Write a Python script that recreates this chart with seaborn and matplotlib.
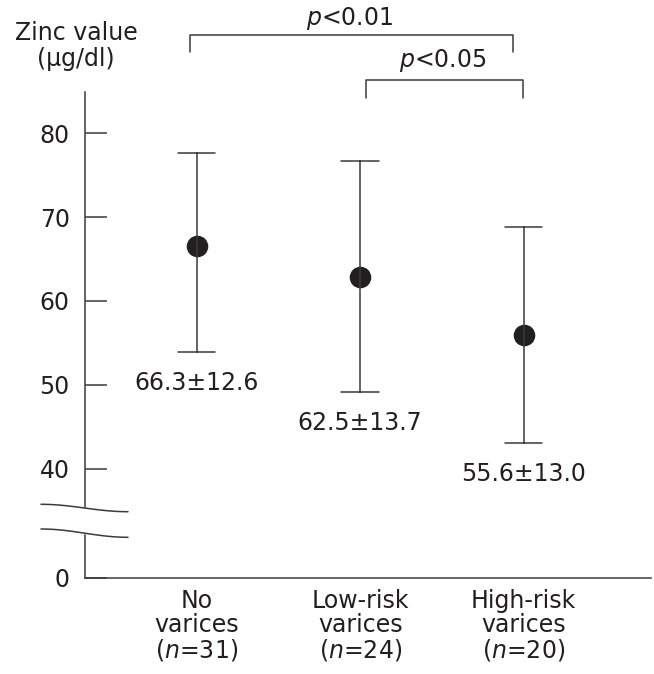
import numpy as np
import pandas as pd
import seaborn as sns
import matplotlib.pyplot as plt

# values
groups = ['No\nvarices\n($\\mathit{n}$=31)',
          'Low-risk\nvarices\n($\\mathit{n}$=24)',
          'High-risk\nvarices\n($\\mathit{n}$=20)']
mean_drawn = [66.6, 62.9, 55.9]
upper_drawn = [77.6, 76.7, 68.8]
lower_drawn = [53.9, 49.1, 43.1]
mean_label = [66.3, 62.5, 55.6]
sd_label = [12.6, 13.7, 13.0]
y_ticks = [0, 40, 50, 60, 70, 80]
comparisons = [(0, 2, 'p<0.01'), (1, 2, 'p<0.05')]

ink = '#231f20'
axc = '#3b3b3b'

sns.set_style('ticks')
plt.rcParams['font.family'] = ['DejaVu Sans']
plt.rcParams['mathtext.fontset'] = 'custom'
plt.rcParams['mathtext.rm'] = 'DejaVu Sans'
plt.rcParams['mathtext.it'] = 'DejaVu Sans:italic'
fs = 17

# long table: lower / mean / upper per group, median gives the point
rows = []
for g, lo, m, hi in zip(groups, lower_drawn, mean_drawn, upper_drawn):
    for v in (lo, m, hi):
        rows.append({'group': g, 'zinc': v})
df = pd.DataFrame(rows)

fig = plt.figure(figsize=(6.54, 6.74), dpi=100)
ax = fig.add_axes([85/654, (674-577.7)/674, 566/654, 486/674])

sns.pointplot(data=df, x='group', y='zinc', order=groups,
              estimator='median', errorbar=lambda v: (v.min(), v.max()),
              capsize=0.23, color=ink, linestyle='none', markersize=13.5,
              err_kws={'linewidth': 1.1, 'color': axc}, ax=ax)

# broken axis: 0..40 squeezed
ratio = 0.3256
def fwd(v):
    v = np.asarray(v, float)
    return np.where(v >= 40, v, 40 - (40 - v) * ratio)
def inv(t):
    t = np.asarray(t, float)
    return np.where(t >= 40, t, 40 - (40 - t) / ratio)
ax.set_yscale('function', functions=(fwd, inv))
ax.set_ylim(0, 84.95)
ax.set_xlim(-0.683, 2.779)
ax.set_yticks(y_ticks)
ax.set_yticklabels([str(t) for t in y_ticks])
ax.set_xticks(range(len(groups)))
ax.set_xticklabels(groups)
ax.set_xlabel('')
ax.set_ylabel('')

sns.despine(ax=ax)
for s in ['left', 'bottom']:
    ax.spines[s].set_color(axc)
    ax.spines[s].set_linewidth(1.1)
ax.tick_params(axis='y', direction='in', length=16, width=1.1, color=axc,
               pad=11, labelsize=fs, labelcolor=ink)
ax.tick_params(axis='x', length=0, pad=8, labelsize=fs, labelcolor=ink)
for t in ax.get_xticklabels():
    t.set_linespacing(1.0)

# mean +- SD labels under each bar
for i, (lo, m, s) in enumerate(zip(lower_drawn, mean_label, sd_label)):
    ax.annotate(f'{m:.1f}\u00b1{s:.1f}', xy=(i, lo), xytext=(0, -22.5),
                textcoords='offset points', ha='center', va='center',
                fontsize=fs, color=ink)

# significance brackets
br = [(-0.04, 1.936, 91.7, 89.7, 0.938, 92.9),
      (1.034, 1.994, 86.35, 84.17, 1.507, 87.93)]
for (a, b, txt), (dx0, dx1, ytop, yleg, tx, ty) in zip(comparisons, br):
    ax.plot([dx0, dx0, dx1, dx1], [yleg, ytop, ytop, yleg], color=axc,
            lw=1.1, clip_on=False)
    p, rest = txt.split('<')
    ax.text(tx, ty, f'$\\mathit{{{p}}}$<{rest}', ha='center', va='baseline',
            fontsize=fs, color=ink, clip_on=False)

# y axis title
ax.text(-0.016, 1.094, 'Zinc value\n(\u00b5g/dl)', transform=ax.transAxes,
        ha='center', va='center', fontsize=fs, color=ink, linespacing=1.12)

# axis break marks
def px(x, y):
    return (x - 85) / 566, (577.7 - y) / 486
s = np.linspace(0, 1, 50)
xs = 41 + 87 * s
up = 504.3 + 7.4 * (1 - np.cos(np.pi * s)) / 2
lo = 529.0 + 8.3 * (1 - np.cos(np.pi * s)) / 2
xu, yu = px(xs, up)
_, yl = px(xs, lo)
ax.fill_between(xu, yu, yl, color='white', transform=ax.transAxes,
                clip_on=False, zorder=3)
ax.plot(xu, yu, color=axc, lw=1.1, transform=ax.transAxes, clip_on=False, zorder=4)
ax.plot(xu, yl, color=axc, lw=1.1, transform=ax.transAxes, clip_on=False, zorder=4)

fig.savefig('out.png', dpi=100)
